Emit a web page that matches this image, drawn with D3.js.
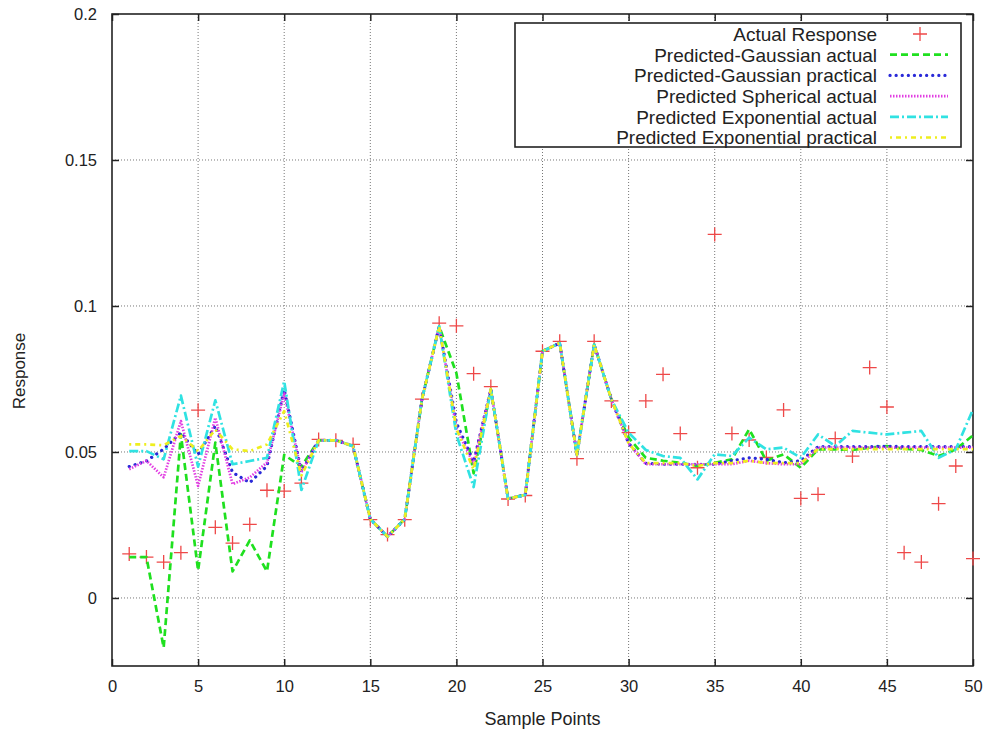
<!DOCTYPE html>
<html>
<head>
<meta charset="utf-8">
<script src="https://cdn.jsdelivr.net/npm/d3@7"></script>
<style>
  body { margin: 0; background: #fff; }
  text { font-family: "Liberation Sans", Arial, sans-serif; fill: #222; }
</style>
</head>
<body>
<svg id="chart" width="992" height="735"></svg>
<script>
const samples = [1, 2, 3, 4, 5, 6, 7, 8, 9, 10, 11, 12, 13, 14, 15, 16, 17, 18, 19, 20,
  21, 22, 23, 24, 25, 26, 27, 28, 29, 30, 31, 32, 33, 34, 35, 36, 37, 38, 39, 40,
  41, 42, 43, 44, 45, 46, 47, 48, 49, 50];

const actual = [0.0151, 0.0140, 0.0123, 0.0155, 0.0643, 0.0242, 0.0188, 0.0252, 0.0369, 0.0366,
  0.0393, 0.0543, 0.0540, 0.0526, 0.0268, 0.0217, 0.0268, 0.0681, 0.0941, 0.0932,
  0.0768, 0.0724, 0.0339, 0.0351, 0.0845, 0.0879, 0.0477, 0.0879, 0.0675, 0.0566,
  0.0675, 0.0766, 0.0563, 0.0446, 0.1245, 0.0563, 0.0541, 0.0481, 0.0644, 0.0341,
  0.0355, 0.0546, 0.0486, 0.0789, 0.0654, 0.0155, 0.0123, 0.0323, 0.0452, 0.0135];

const gaussActual = [0.014, 0.014, -0.017, 0.056, 0.0094, 0.0532, 0.0091, 0.0197, 0.0091, 0.049,
  0.045, 0.054, 0.054, 0.052, 0.027, 0.021, 0.027, 0.068, 0.093, 0.077,
  0.0427, 0.0715, 0.034, 0.0353, 0.0845, 0.0873, 0.049, 0.0868, 0.068, 0.0549,
  0.048, 0.047, 0.0463, 0.0452, 0.0463, 0.0475, 0.0578, 0.047, 0.0492, 0.0446,
  0.0509, 0.0509, 0.0507, 0.0515, 0.052, 0.0511, 0.0507, 0.0486, 0.0509, 0.0557];

const gaussPractical = [0.045, 0.0469, 0.051, 0.0566, 0.0492, 0.0589, 0.043, 0.0395, 0.0452, 0.0714,
  0.0432, 0.054, 0.054, 0.052, 0.027, 0.021, 0.027, 0.068, 0.093, 0.060,
  0.0466, 0.0715, 0.034, 0.0353, 0.0845, 0.0873, 0.049, 0.0868, 0.068, 0.053,
  0.0461, 0.0458, 0.0458, 0.0458, 0.0458, 0.047, 0.048, 0.0475, 0.0463, 0.047,
  0.0518, 0.0518, 0.0518, 0.0518, 0.052, 0.0518, 0.0518, 0.0518, 0.0518, 0.0518];

const sphericalActual = [0.0441, 0.047, 0.0413, 0.0606, 0.0384, 0.0617, 0.039, 0.0413, 0.0464, 0.070,
  0.043, 0.054, 0.054, 0.052, 0.027, 0.021, 0.027, 0.068, 0.093, 0.058,
  0.046, 0.0715, 0.034, 0.0353, 0.0845, 0.0873, 0.049, 0.0868, 0.068, 0.053,
  0.0458, 0.0458, 0.0458, 0.0458, 0.0458, 0.0458, 0.047, 0.0462, 0.0458, 0.0458,
  0.0515, 0.0515, 0.0515, 0.0515, 0.0515, 0.0515, 0.0515, 0.0515, 0.0515, 0.0515];

const expActual = [0.0503, 0.0503, 0.0475, 0.0693, 0.045, 0.0677, 0.0458, 0.0469, 0.048, 0.0742,
  0.037, 0.054, 0.054, 0.052, 0.027, 0.021, 0.027, 0.068, 0.093, 0.056,
  0.038, 0.0715, 0.034, 0.0353, 0.0845, 0.0873, 0.049, 0.0868, 0.068, 0.0566,
  0.0507, 0.0486, 0.048, 0.0406, 0.0492, 0.0486, 0.0549, 0.0509, 0.0515, 0.048,
  0.056, 0.052, 0.0572, 0.0566, 0.056, 0.0566, 0.0572, 0.048, 0.0509, 0.0646];

const expPractical = [0.0526, 0.0526, 0.0523, 0.0555, 0.0503, 0.0577, 0.0509, 0.0503, 0.0526, 0.064,
  0.042, 0.054, 0.054, 0.052, 0.027, 0.021, 0.027, 0.068, 0.093, 0.058,
  0.044, 0.0715, 0.034, 0.0353, 0.0845, 0.0873, 0.049, 0.0868, 0.068, 0.053,
  0.0462, 0.0462, 0.0462, 0.0452, 0.0462, 0.0462, 0.047, 0.0462, 0.0462, 0.0462,
  0.051, 0.051, 0.051, 0.051, 0.051, 0.051, 0.051, 0.051, 0.051, 0.051];

const xTicks = [0, 5, 10, 15, 20, 25, 30, 35, 40, 45, 50];
const yTicks = [0, 0.05, 0.1, 0.15, 0.2];
const yTickLabels = ['0', '0.05', '0.1', '0.15', '0.2'];

const legendNames = ['Actual Response', 'Predicted-Gaussian actual', 'Predicted-Gaussian practical',
  'Predicted Spherical actual', 'Predicted Exponential actual', 'Predicted Exponential practical'];

// line styles, gnuplot-like
const lineSeries = [
  { values: gaussActual, color: '#1fe01f', dash: '7,4', cap: 'butt' },
  { values: gaussPractical, color: '#2a2ad8', dash: '0.1,6', cap: 'round', width: 3.2 },
  { values: sphericalActual, color: '#e23ee2', dash: '1.5,1.5', cap: 'butt' },
  { values: expActual, color: '#30e2e2', dash: '9,3,2,3', cap: 'butt' },
  { values: expPractical, color: '#eeee1e', dash: '2,4,5,4', cap: 'butt' },
];

const margin = { left: 112, right: 973, top: 14, bottom: 666 };

const xScale = d3.scaleLinear().domain([0, 50]).range([margin.left, margin.right]);
const yScale = d3.scaleLinear().domain([-0.0233, 0.2]).range([margin.bottom, margin.top]);

const svg = d3.select('#chart');
svg.append('rect').attr('width', 992).attr('height', 735).attr('fill', '#fff');

// grid
const grid = svg.append('g').attr('stroke', '#777').attr('stroke-width', 1).attr('stroke-dasharray', '1,2');
grid.selectAll('line.gx')
  .data(xTicks.filter(d => d > 0 && d < 50))
  .enter()
  .append('line')
  .attr('x1', d => xScale(d)).attr('x2', d => xScale(d))
  .attr('y1', margin.top).attr('y2', margin.bottom);
grid.selectAll('line.gy')
  .data(yTicks.filter(d => d < 0.2))
  .enter()
  .append('line')
  .attr('x1', margin.left).attr('x2', margin.right)
  .attr('y1', d => yScale(d)).attr('y2', d => yScale(d));

// axes (ticks inward, mirrored)
const tl = 7;
const axisB = svg.append('g').attr('transform', `translate(0,${margin.bottom})`)
  .call(d3.axisBottom(xScale).tickValues(xTicks).tickSize(-tl).tickPadding(14));
const axisT = svg.append('g').attr('transform', `translate(0,${margin.top})`)
  .call(d3.axisTop(xScale).tickValues(xTicks).tickSize(-tl).tickFormat(''));
const axisL = svg.append('g').attr('transform', `translate(${margin.left},0)`)
  .call(d3.axisLeft(yScale).tickValues(yTicks).tickSize(-tl).tickPadding(15)
    .tickFormat((d, i) => yTickLabels[i]));
const axisR = svg.append('g').attr('transform', `translate(${margin.right},0)`)
  .call(d3.axisRight(yScale).tickValues(yTicks).tickSize(-tl).tickFormat(''));

[axisB, axisT, axisL, axisR].forEach(a => {
  a.select('.domain').remove();
  a.selectAll('line').attr('stroke', '#222').attr('stroke-width', 1.5);
  a.selectAll('text').attr('font-size', 16.5).attr('fill', '#222')
    .style('font-family', '"Liberation Sans", Arial, sans-serif');
});

// frame
svg.append('rect')
  .attr('x', margin.left).attr('y', margin.top)
  .attr('width', margin.right - margin.left).attr('height', margin.bottom - margin.top)
  .attr('fill', 'none').attr('stroke', '#222').attr('stroke-width', 1.6);

// axis titles
svg.append('text')
  .attr('x', (margin.left + margin.right) / 2).attr('y', 725)
  .attr('text-anchor', 'middle').attr('font-size', 18)
  .text('Sample Points');
svg.append('text')
  .attr('transform', 'translate(25,371) rotate(-90)')
  .attr('text-anchor', 'middle').attr('font-size', 17)
  .text('Response');

// actual points as plus marks
const plusSize = 7;
const pts = svg.append('g').attr('stroke', '#ee4848').attr('stroke-width', 1.3);
pts.selectAll('path')
  .data(samples.map((s, i) => [s, actual[i]]))
  .enter()
  .append('path')
  .attr('d', d => {
    const cx = xScale(d[0]);
    const cy = yScale(d[1]);
    return `M${cx - plusSize},${cy}H${cx + plusSize}M${cx},${cy - plusSize}V${cy + plusSize}`;
  });

// predicted lines
const lineGenerator = d3.line()
  .x(d => xScale(d[0]))
  .y(d => yScale(d[1]));

lineSeries.forEach(s => {
  svg.append('path')
    .attr('d', lineGenerator(samples.map((x, i) => [x, s.values[i]])))
    .attr('fill', 'none')
    .attr('stroke', s.color)
    .attr('stroke-width', s.width || 2.7)
    .attr('stroke-dasharray', s.dash)
    .attr('stroke-linecap', s.cap)
    .attr('stroke-linejoin', 'round');
});

// legend
const legendBox = { x: 515, y: 23, w: 446, h: 124 };
svg.append('rect')
  .attr('x', legendBox.x).attr('y', legendBox.y)
  .attr('width', legendBox.w).attr('height', legendBox.h)
  .attr('fill', '#fff').attr('stroke', '#222').attr('stroke-width', 1.6);

const rowY = i => 34 + i * 20.7;
const leg = svg.append('g');
leg.selectAll('text')
  .data(legendNames)
  .enter()
  .append('text')
  .attr('x', 877)
  .attr('y', (d, i) => rowY(i))
  .attr('dy', '0.36em')
  .attr('text-anchor', 'end')
  .attr('font-size', 19)
  .text(d => d);

leg.append('path')
  .attr('d', `M${920 - plusSize},${rowY(0)}H${920 + plusSize}M920,${rowY(0) - plusSize}V${rowY(0) + plusSize}`)
  .attr('stroke', '#ee4848').attr('stroke-width', 1.3);

leg.selectAll('line')
  .data(lineSeries)
  .enter()
  .append('line')
  .attr('x1', 890).attr('x2', 948)
  .attr('y1', (d, i) => rowY(i + 1)).attr('y2', (d, i) => rowY(i + 1))
  .attr('stroke', d => d.color)
  .attr('stroke-width', d => d.width || 2.7)
  .attr('stroke-dasharray', d => d.dash)
  .attr('stroke-linecap', d => d.cap);
</script>
</body>
</html>
